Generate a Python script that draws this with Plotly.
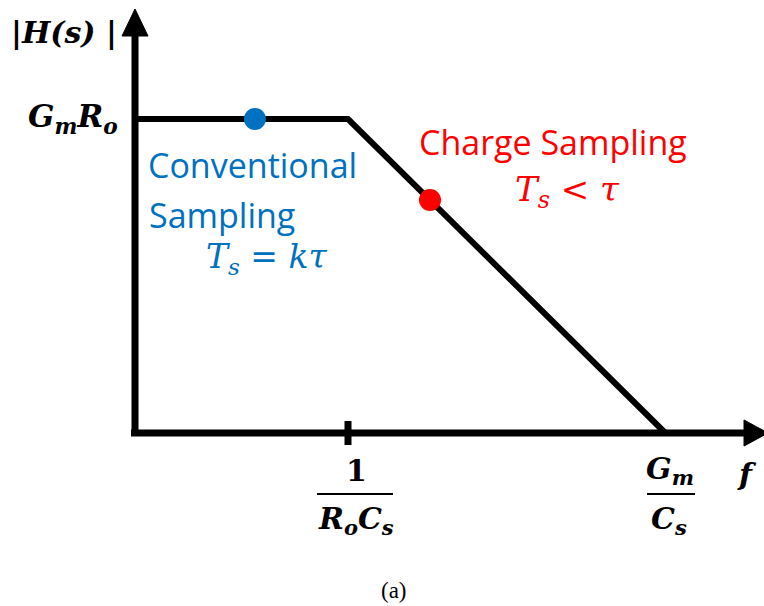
import plotly.graph_objects as go

# Bode-style magnitude sketch of |H(s)| (normalized units)
# frequency axis: 1.0 = 1/(R_o C_s) pole, 2.49 = G_m/C_s crossing
freq_points = [0.0, 1.0, 2.49]
mag_points = [1.0, 1.0, 0.0]

# operating points
conv_f, conv_mag = [0.563], [1.0]
charge_f, charge_mag = [1.385], [0.742]

W, H = 764, 606
X0, Y0 = 135, 433          # pixel position of the origin
SX, SY = 213, 314          # pixels per unit (x, y)

x_range = [(0 - X0) / SX, (W - X0) / SX]
y_range = [(Y0 - H) / SY, Y0 / SY]


def fx(px):
    return (px - X0) / SX


def fy(py):
    return (Y0 - py) / SY


BLUE = "#0070C0"
RED = "#FF0000"
MATH = "DejaVu Serif"
SANS = "Open Sans"

fig = go.Figure()

fig.add_trace(go.Scatter(x=freq_points, y=mag_points, mode="lines",
                         line=dict(color="black", width=6), hoverinfo="skip"))
fig.add_trace(go.Scatter(x=conv_f, y=conv_mag, mode="markers",
                         marker=dict(color=BLUE, size=22), hoverinfo="skip"))
fig.add_trace(go.Scatter(x=charge_f, y=charge_mag, mode="markers",
                         marker=dict(color=RED, size=22), hoverinfo="skip"))

shapes = []
# axes
shapes.append(dict(type="line", xref="x", yref="y", x0=fx(X0), y0=fy(Y0 + 3),
                   x1=fx(X0), y1=fy(30), line=dict(color="black", width=7)))
shapes.append(dict(type="line", xref="x", yref="y", x0=fx(X0 - 4), y0=fy(Y0),
                   x1=fx(748), y1=fy(Y0), line=dict(color="black", width=7)))
# arrowheads
shapes.append(dict(type="path", xref="x", yref="y",
                   path=f"M {fx(X0-13)},{fy(36)} L {fx(X0+13)},{fy(36)} L {fx(X0)},{fy(9)} Z",
                   fillcolor="black", line=dict(color="black", width=1)))
shapes.append(dict(type="path", xref="x", yref="y",
                   path=f"M {fx(744)},{fy(Y0-13)} L {fx(744)},{fy(Y0+13)} L {fx(768)},{fy(Y0)} Z",
                   fillcolor="black", line=dict(color="black", width=1)))
# tick at the pole frequency
shapes.append(dict(type="line", xref="x", yref="y", x0=freq_points[1], y0=fy(421),
                   x1=freq_points[1], y1=fy(445), line=dict(color="black", width=7)))
# fraction bars
shapes.append(dict(type="line", xref="x", yref="y", x0=fx(317), y0=fy(494),
                   x1=fx(393), y1=fy(494), line=dict(color="black", width=2)))
shapes.append(dict(type="line", xref="x", yref="y", x0=fx(647), y0=fy(494),
                   x1=fx(695), y1=fy(494), line=dict(color="black", width=2)))

ann = []


def text(px, py, s, size, color="black", family=MATH):
    ann.append(dict(x=fx(px), y=fy(py), xref="x", yref="y", text=s, showarrow=False,
                    font=dict(family=family, size=size, color=color),
                    xanchor="center", yanchor="middle"))


text(64, 32, "<b><i>|H(s) |</i></b>", 30)
text(73, 118, "<b><i>G<sub>m</sub>R<sub>o</sub></i></b>", 31)
text(356, 470, "<b>1</b>", 30)
text(356, 520, "<b><i>R<sub>o</sub>C<sub>s</sub></i></b>", 30)
text(670, 470, "<b><i>G<sub>m</sub></i></b>", 30)
text(669, 520, "<b><i>C<sub>s</sub></i></b>", 30)
text(747, 474, "<b><i>f</i></b>", 30)

text(252, 165, "Conventional", 34, BLUE, SANS)
text(222, 215, "Sampling", 34, BLUE, SANS)
text(267, 258, "<i>T<sub>s</sub></i> = <i>kτ</i>", 33, BLUE)
text(553, 142, "Charge Sampling", 34, RED, SANS)
text(567, 191, "<i>T<sub>s</sub></i> &lt; <i>τ</i>", 34, RED)
text(394, 590, "(a)", 23, "black", "Liberation Serif")

fig.update_layout(
    width=W, height=H,
    margin=dict(l=0, r=0, t=0, b=0),
    paper_bgcolor="white", plot_bgcolor="white",
    showlegend=False,
    xaxis=dict(range=x_range, visible=False, fixedrange=True),
    yaxis=dict(range=y_range, visible=False, fixedrange=True),
    shapes=shapes, annotations=ann,
)

fig.write_html("out.html")
